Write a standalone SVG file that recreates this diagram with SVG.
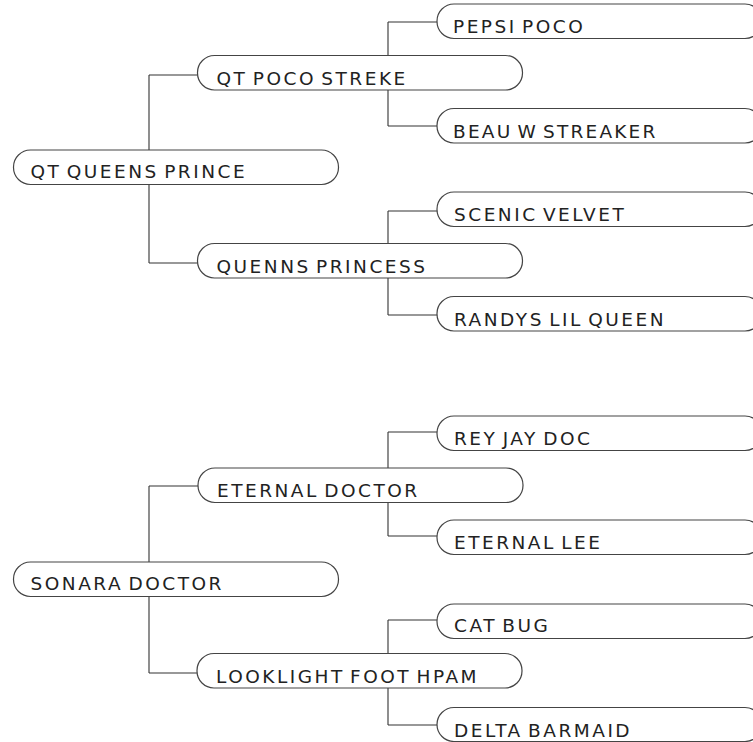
<svg xmlns="http://www.w3.org/2000/svg" width="753" height="742" viewBox="0 0 753 742">
<style>
.bg{fill:#ffffff}
.n rect{fill:#ffffff;stroke:#444444;stroke-width:1.2}
.n text{font-family:"DejaVu Sans","Liberation Sans",sans-serif;font-size:18.5px;letter-spacing:2.5px;word-spacing:-3px;fill:#222222}
.c path{fill:none;stroke:#333333;stroke-width:1.1}
</style>
<rect class="bg" x="0" y="0" width="753" height="742"/>
<g class="c" id="connectors">
<path d="M149,75 V263 M149,75 H199 M149,263 H199"/>
<path d="M388,22 V126 M388,22 H438 M388,126 H438"/>
<path d="M388,211 V315 M388,211 H438 M388,315 H438"/>
<path d="M149,486 V673 M149,486 H199 M149,673 H199"/>
<path d="M388,432 V536 M388,432 H438 M388,536 H438"/>
<path d="M388,620 V725 M388,620 H438 M388,725 H438"/>
</g>
<g class="n" id="pepsi-poco" transform="translate(437,4)"><rect width="325" height="34.5" rx="17" ry="17"/><text x="16" y="29.3">PEPSI POCO</text></g>
<g class="n" id="qt-poco-streke" transform="translate(197.5,55.5)"><rect width="325" height="34.5" rx="17" ry="17"/><text x="19" y="29">QT POCO STREKE</text></g>
<g class="n" id="beau-w-streaker" transform="translate(437,108.5)"><rect width="325" height="34.5" rx="17" ry="17"/><text x="16" y="29" style="letter-spacing:2.2px">BEAU W STREAKER</text></g>
<g class="n" id="qt-queens-prince" transform="translate(13.5,150)"><rect width="325" height="34.5" rx="17" ry="17"/><text x="17" y="27.5">QT QUEENS PRINCE</text></g>
<g class="n" id="scenic-velvet" transform="translate(437,192)"><rect width="325" height="34.5" rx="17" ry="17"/><text x="17" y="29">SCENIC VELVET</text></g>
<g class="n" id="quenns-princess" transform="translate(197.5,243.5)"><rect width="325" height="34.5" rx="17" ry="17"/><text x="19" y="29">QUENNS PRINCESS</text></g>
<g class="n" id="randys-lil-queen" transform="translate(437,296.5)"><rect width="325" height="34.5" rx="17" ry="17"/><text x="17" y="29">RANDYS LIL QUEEN</text></g>
<g class="n" id="rey-jay-doc" transform="translate(437,416)"><rect width="325" height="34.5" rx="17" ry="17"/><text x="17" y="29">REY JAY DOC</text></g>
<g class="n" id="eternal-doctor" transform="translate(198,468)"><rect width="325" height="34.5" rx="17" ry="17"/><text x="19" y="29.3">ETERNAL DOCTOR</text></g>
<g class="n" id="eternal-lee" transform="translate(437,520)"><rect width="325" height="34.5" rx="17" ry="17"/><text x="17" y="29">ETERNAL LEE</text></g>
<g class="n" id="sonara-doctor" transform="translate(13.5,562)"><rect width="325" height="34.5" rx="17" ry="17"/><text x="17" y="27.5">SONARA DOCTOR</text></g>
<g class="n" id="cat-bug" transform="translate(437,604)"><rect width="325" height="34.5" rx="17" ry="17"/><text x="17" y="28.3">CAT BUG</text></g>
<g class="n" id="looklight-foot-hpam" transform="translate(197,653.5)"><rect width="325" height="34.5" rx="17" ry="17"/><text x="19" y="29">LOOKLIGHT FOOT HPAM</text></g>
<g class="n" id="delta-barmaid" transform="translate(437,707.5)"><rect width="325" height="34" rx="17" ry="17"/><text x="17" y="29">DELTA BARMAID</text></g>
</svg>
